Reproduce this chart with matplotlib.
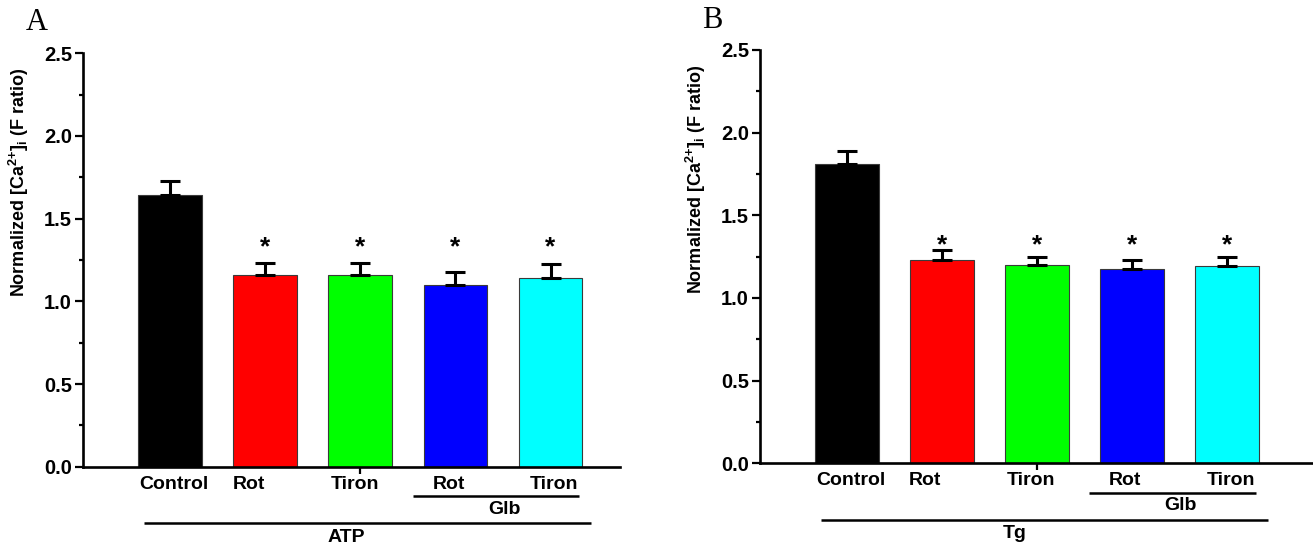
import matplotlib
matplotlib.use('Agg')
import matplotlib.pyplot as plt
from matplotlib.transforms import blended_transform_factory
from matplotlib.ticker import MultipleLocator

plt.rcParams['font.family'] = ['Liberation Sans', 'DejaVu Sans']
plt.rcParams['font.weight'] = 'bold'
plt.rcParams['mathtext.fontset'] = 'custom'
plt.rcParams['mathtext.rm'] = 'Liberation Sans:bold'
plt.rcParams['mathtext.it'] = 'Liberation Sans:bold'
plt.rcParams['mathtext.bf'] = 'Liberation Sans:bold'
plt.rcParams['mathtext.default'] = 'rm'

# ---------------- data ----------------
categories = ['Control', 'Rot', 'Tiron', 'Rot', 'Tiron']
bar_colors = ['#000000', '#ff0000', '#00ff00', '#0000ff', '#00ffff']
atp_means = [1.645, 1.157, 1.157, 1.098, 1.140]
atp_sem = [0.083, 0.076, 0.072, 0.082, 0.085]
tg_means = [1.810, 1.231, 1.197, 1.174, 1.193]
tg_sem = [0.079, 0.057, 0.053, 0.057, 0.057]
significant = [False, True, True, True, True]
y_ticks = [0.0, 0.5, 1.0, 1.5, 2.0, 2.5]
y_ticklabels = ['0.0', '0.5', '1.0', '1.5', '2.0', '2.5']
subgroup_label = 'Glb'
panel_A_group = 'ATP'
panel_B_group = 'Tg'
ylabel = 'Normalized [Ca$^{\\text{2+}}$]$_{\\text{i}}$ (F ratio)'

# ---------------- layout ----------------
W, H = 1313, 548
fig = plt.figure(figsize=(W / 100, H / 100), dpi=100)
axA = fig.add_axes([83 / W, (H - 466.7) / H, (620 - 83) / W, 413.4 / H])
axB = fig.add_axes([760 / W, (H - 463.3) / H, (W - 760) / W, 413.3 / H])

label_dx = [0.04, -0.175, -0.06, -0.07, 0.04]
AX_H = 413.4  # axes height in px
FS = 14
STAR_FS = 19


def panel(ax, means, sems, xlim, group_label, group_text_x, star_y, letter, letter_xy):
    x = list(range(1, len(means) + 1))
    ax.bar(x, means, width=0.67, color=bar_colors, edgecolor='#3a3a3a',
           linewidth=0.8, zorder=2)
    ax.errorbar(x, means, yerr=[[0] * len(sems), sems], fmt='none',
                ecolor='black', elinewidth=2.2, capsize=7, capthick=2.2, zorder=3)
    for xi, sig in zip(x, significant):
        if sig:
            ax.annotate('*', xy=(xi, star_y), xytext=(0, -0.55 * STAR_FS),
                        textcoords='offset points', ha='center', va='baseline',
                        fontsize=STAR_FS, fontweight='bold')
    ax.set_xlim(*xlim)
    ax.set_ylim(0, 2.5)
    for s in ['top', 'right']:
        ax.spines[s].set_visible(False)
    for s in ['left', 'bottom']:
        ax.spines[s].set_linewidth(1.9)
    ax.set_yticks(y_ticks)
    ax.set_yticklabels(y_ticklabels)
    ax.yaxis.set_minor_locator(MultipleLocator(0.25))
    ax.tick_params(axis='y', which='major', length=5.5, width=1.6,
                   labelsize=14.5, pad=2.5)
    ax.tick_params(axis='y', which='minor', length=3, width=1.6)
    ax.set_xticks([3])
    ax.set_xticklabels([''])
    ax.tick_params(axis='x', which='major', length=5, width=1.6)
    ax.set_ylabel(ylabel, fontsize=13, fontweight='bold')

    tr = blended_transform_factory(ax.transData, ax.transAxes)
    for xi, lab, dx in zip(x, categories, label_dx):
        ax.text(xi + dx, -17.5 / AX_H, lab, transform=tr, ha='center',
                va='center', fontsize=FS, fontweight='bold', clip_on=False)
    # subgroup line (Glb)
    ax.plot([3.55, 5.30], [-29.3 / AX_H] * 2, transform=tr, color='black',
            lw=1.8, clip_on=False, solid_capstyle='butt')
    ax.text(4.51, -42.5 / AX_H, subgroup_label, transform=tr, ha='center',
            va='center', fontsize=FS, fontweight='bold', clip_on=False)
    # group line
    ax.plot([0.73, 5.43], [-56.5 / AX_H] * 2, transform=tr, color='black',
            lw=1.8, clip_on=False, solid_capstyle='butt')
    ax.text(group_text_x, -70.5 / AX_H, group_label, transform=tr, ha='center',
            va='center', fontsize=FS, fontweight='bold', clip_on=False)
    fig.text(letter_xy[0] / W, 1 - letter_xy[1] / H, letter,
             family='Liberation Serif', fontweight='normal', fontsize=22,
             ha='center', va='center')


panel(axA, atp_means, atp_sem, (0.085, 5.73), panel_A_group, 2.85, 1.375, 'A', (37, 23))
panel(axB, tg_means, tg_sem, (0.084, 5.905), panel_B_group, 2.77, 1.365, 'B', (712, 20))
axA.yaxis.set_label_coords(-52 / 537, 0.6875)
axB.yaxis.set_label_coords(-52 / 553, 0.6875)

fig.savefig('out.png', dpi=100)
